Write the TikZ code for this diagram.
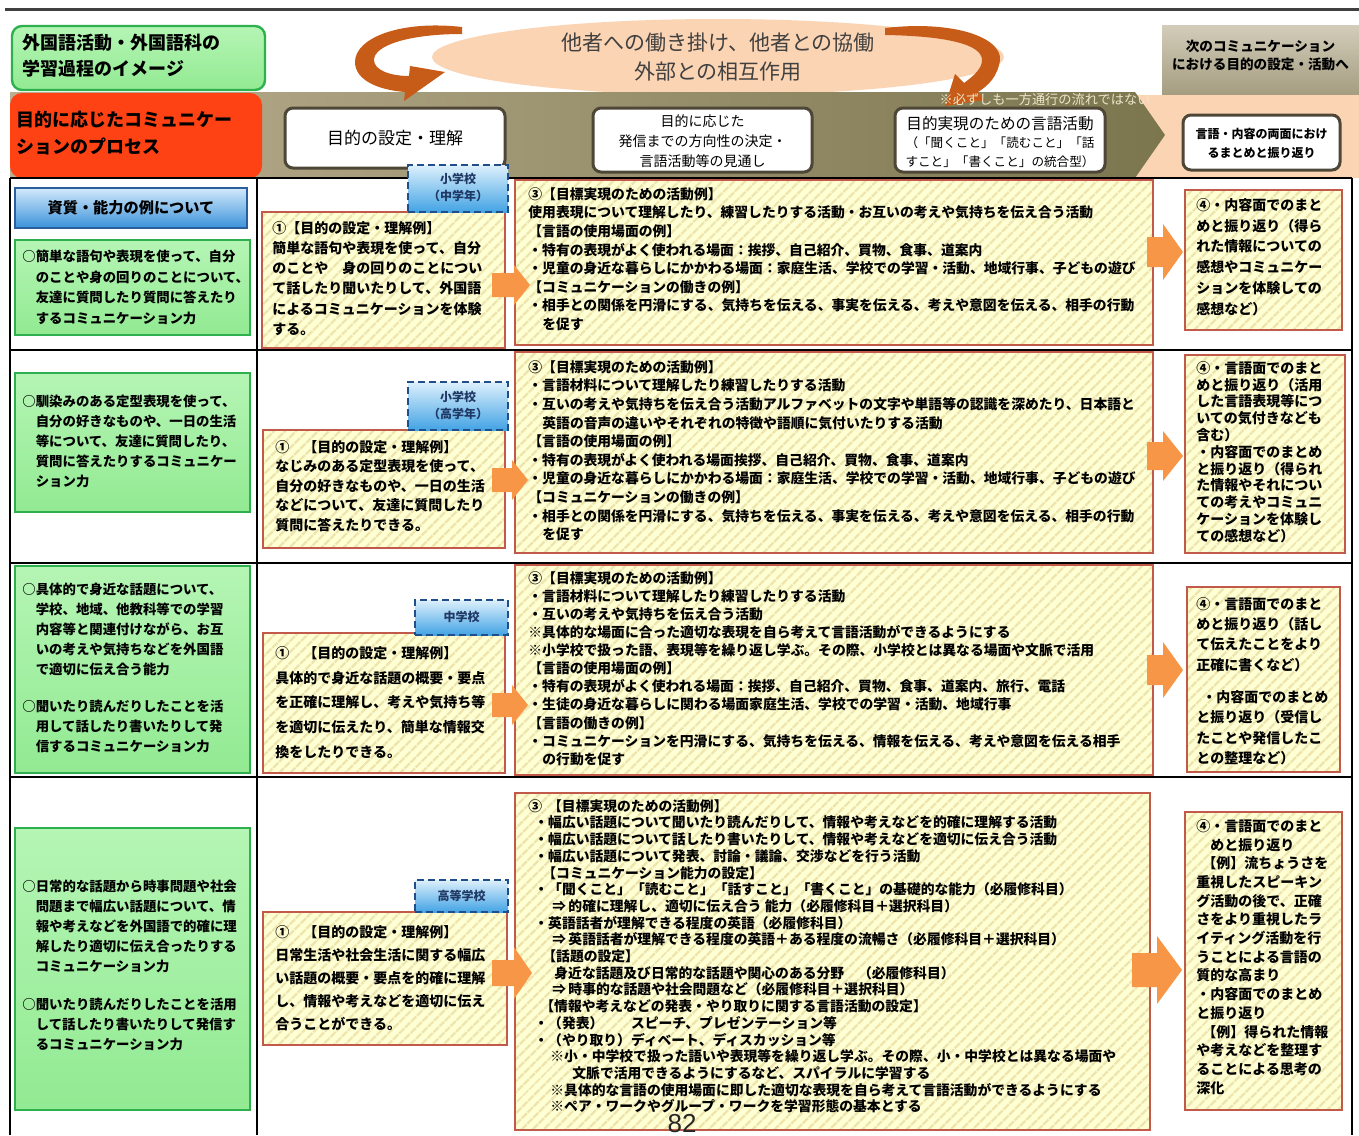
\documentclass[tikz,border=0pt]{standalone}
\usepackage{fontspec}
\setmainfont{Noto Sans CJK JP}
\newfontfamily\numfont{Liberation Sans}
\usetikzlibrary{patterns.meta,fit}
\definecolor{ybg}{HTML}{FFFFD4}
\definecolor{ystripe}{HTML}{EEE5AE}
\definecolor{yborder}{HTML}{C25A4C}
\definecolor{gtop}{HTML}{B5F5B5}
\definecolor{gbot}{HTML}{92EA92}
\definecolor{gborder}{HTML}{2FB04E}
\definecolor{barrowc}{HTML}{F79646}
\definecolor{lblborder}{HTML}{1F4E8A}
\definecolor{lbltop}{HTML}{DDF0FC}
\definecolor{lblbot}{HTML}{43A3E4}
\definecolor{lbltext}{HTML}{1F3864}
\definecolor{peach}{HTML}{FBD4B4}
\definecolor{arcc}{HTML}{C75C18}
\definecolor{bandl}{HTML}{BBAF91}
\definecolor{bandr}{HTML}{7B764E}
\definecolor{redbox}{HTML}{FF4214}
\definecolor{wbborder}{HTML}{4E4737}
\definecolor{nexttop}{HTML}{D3CCBA}
\definecolor{nextbot}{HTML}{A49D80}
\definecolor{notec}{HTML}{EEE6CB}
\definecolor{qtop}{HTML}{D2E9FB}
\definecolor{qbot}{HTML}{3B92DA}
\definecolor{qborder}{HTML}{2A5F9E}
\newcommand\myfs[2]{\fontsize{#1}{#2}\selectfont}
\newcommand\blockarr[6]{\fill[barrowc] (#1,{#4-#5}) -- (#3,{#4-#5}) -- (#3,{#4-#6}) -- (#2,#4) -- (#3,{#4+#6}) -- (#3,{#4+#5}) -- (#1,{#4+#5}) -- cycle;}
\begin{document}
\begin{tikzpicture}[x=0.5pt,y=-0.5pt,
  ybox/.style={draw=yborder,line width=1.4pt,preaction={fill=ybg},
     pattern={Lines[angle=45,distance=4pt,line width=1.3pt]},pattern color=ystripe,inner sep=0pt},
  gbox/.style={draw=gborder,line width=1.2pt,top color=gtop,bottom color=gbot,inner sep=0pt},
  lbl/.style={draw=lblborder,dash pattern=on 3.5pt off 2pt,line width=1.1pt,top color=lbltop,bottom color=lblbot,inner sep=0pt},
  lbltxt/.style={align=center,text=lbltext,font=\bfseries\myfs{6}{8.5},inner sep=0pt},
  wbox/.style={draw=wbborder,line width=1.5pt,fill=white,rounded corners=4pt,inner sep=0pt},
  ctxt/.style={align=center,inner sep=0pt},
  txt/.style={anchor=north west,align=left,inner sep=0pt},
  rule/.style={line width=1pt,black}
]
\useasboundingbox (0,0) rectangle (1359,1135);
\fill[white] (0,0) rectangle (1359,1135);
\draw[line width=1.5pt,black!75] (5,9) -- (1359,9);

% ---------- header ----------
\fill[peach] (718,57) ellipse [x radius=143pt, y radius=19pt];
\node[fit={(1162,25)(1359,95)},top color=nexttop,bottom color=nextbot,inner sep=0pt] (next) {};
\node[ctxt,font=\bfseries\myfs{6.8}{9},yshift=2.5pt] (nextt) at (next.center) {次のコミュニケーション\\における目的の設定・活動へ};
\fill[peach] (1130,95) rectangle (1359,178);
\shade[left color=bandl,right color=bandr] (10,92) -- (1135,92) -- (1165,135) -- (1135,178) -- (10,178) -- cycle;

\fill[arcc] (462,27) .. controls (400,20) and (355,38) .. (355,62) .. controls (355,80) and (378,90) .. (405,92)
  -- (404,101) -- (445,72) -- (410,66) -- (409,76) .. controls (390,76) and (374,70) .. (374,60)
  .. controls (374,45) and (410,34) .. (462,34) -- cycle;
\fill[arcc] (885,28) .. controls (955,20) and (1002,38) .. (1000,60) .. controls (998,76) and (988,86) .. (978,92)
  -- (985,100) -- (945,106) -- (955,74) -- (964,83) .. controls (975,75) and (982,68) .. (982,60)
  .. controls (982,44) and (945,36) .. (885,35) -- cycle;
\node[font=\myfs{10.5}{14.5},text=black!75,ctxt] (coop) at (718,57) {他者への働き掛け、他者との協働\\外部との相互作用};

\node[gbox,rounded corners=5pt,fit={(12,26)(265,90)}] (title) {};
\node[txt,font=\bfseries\myfs{9}{13}] (titlet) at (22,34) {外国語活動・外国語科の\\学習過程のイメージ};
\node[fill=redbox,rounded corners=6pt,inner sep=0pt,fit={(10,93)(262,178)}] (proc) {};
\node[txt,font=\bfseries\myfs{9}{13.5}] (proct) at (16,111) {目的に応じたコミュニケー\\ションのプロセス};

\node[wbox,fit={(285,108)(505,168)}] (b1) {};
\node[ctxt,font=\myfs{8.5}{10}] (b1t) at (b1.center) {目的の設定・理解};
\node[wbox,fit={(593,108)(812,172)}] (b2) {};
\node[ctxt,font=\myfs{7}{10},yshift=-0.5pt] (b2t) at (b2.center) {目的に応じた\\発信までの方向性の決定・\\言語活動等の見通し};
\node[wbox,fit={(895,108)(1105,172)}] (b3) {};
\node[ctxt,font=\myfs{6.3}{9.3},yshift=-1pt] (b3t) at (b3.center) {{\myfs{7.8}{10}目的実現のための言語活動}\\（「聞くこと」「読むこと」「話\\すこと」「書くこと」の統合型）};
\node[wbox,fit={(1183,115)(1340,170)}] (b4) {};
\node[ctxt,font=\bfseries\myfs{6}{9.5},yshift=-0.5pt] (b4t) at (b4.center) {言語・内容の両面におけ\\るまとめと振り返り};
\node[font=\myfs{6.6}{8},text=notec,inner sep=0pt] (note) at (1045,99) {※必ずしも一方通行の流れではない};

% ---------- table rules ----------
\draw[rule] (10,178) -- (1352,178);
\draw[rule] (10,350) -- (1352,350);
\draw[rule] (10,563) -- (1352,563);
\draw[rule] (10,777) -- (1352,777);
\draw[rule] (10,178) -- (10,1135);
\draw[rule] (257,178) -- (257,1135);
\draw[rule] (1352,178) -- (1352,1135);

\node[fit={(15,188)(247,228)},draw=qborder,line width=1pt,top color=qtop,bottom color=qbot,inner sep=0pt] (qual) {};
\node[ctxt,font=\bfseries\myfs{7.6}{9}] (qualt) at (qual.center) {資質・能力の例について};

% ---------- row 1 ----------
\node[gbox,fit={(15,240)(250,335)}] (g1) {};
\node[txt,font=\bfseries\myfs{6.7}{10.25}] (g1t) at (22,250) {○簡単な語句や表現を使って、自分\\　のことや身の回りのことについて、\\　友達に質問したり質問に答えたり\\　するコミュニケーション力};
\node[ybox,fit={(262,212)(505,348)}] (r1a) {};
\node[txt,font=\bfseries\myfs{7}{10.1}] (r1at) at (272,221) {①【目的の設定・理解例】\\簡単な語句や表現を使って、自分\\のことや　身の回りのことについ\\て話したり聞いたりして、外国語\\によるコミュニケーションを体験\\する。};
\node[lbl,fit={(408,165)(508,212)}] (l1) {};
\node[lbltxt,yshift=0.5pt] (l1t) at (l1.center) {小学校\\（中学年）};
\node[ybox,fit={(515,180)(1153,345)}] (r1c) {};
\node[txt,font=\bfseries\myfs{6.9}{9.3}] (r1ct) at (528,187) {③【目標実現のための活動例】\\使用表現について理解したり、練習したりする活動・お互いの考えや気持ちを伝え合う活動\\【言語の使用場面の例】\\・特有の表現がよく使われる場面：挨拶、自己紹介、買物、食事、道案内\\・児童の身近な暮らしにかかわる場面：家庭生活、学校での学習・活動、地域行事、子どもの遊び\\【コミュニケーションの働きの例】\\・相手との関係を円滑にする、気持ちを伝える、事実を伝える、考えや意図を伝える、相手の行動\\\hspace*{7pt}を促す};
\node[ybox,fit={(1185,190)(1342,330)}] (r1d) {};
\node[txt,font=\bfseries\myfs{7}{10.4}] (r1dt) at (1196,198) {④・内容面でのまと\\めと振り返り（得ら\\れた情報についての\\感想やコミュニケー\\ションを体験しての\\感想など）};
\blockarr{492}{530}{514}{285}{12}{20}
\blockarr{1147}{1183}{1163}{252}{15}{28}

% ---------- row 2 ----------
\node[gbox,fit={(15,373)(250,512)}] (g2) {};
\node[txt,font=\bfseries\myfs{6.7}{9.9}] (g2t) at (22,395) {○馴染みのある定型表現を使って、\\　自分の好きなものや、一日の生活\\　等について、友達に質問したり、\\　質問に答えたりするコミュニケー\\　ション力};
\node[ybox,fit={(263,430)(505,548)}] (r2a) {};
\node[txt,font=\bfseries\myfs{7}{9.75}] (r2at) at (275,440) {①　【目的の設定・理解例】\\なじみのある定型表現を使って、\\自分の好きなものや、一日の生活\\などについて、友達に質問したり\\質問に答えたりできる。};
\node[lbl,fit={(408,382)(508,430)}] (l2) {};
\node[lbltxt,yshift=0.5pt] (l2t) at (l2.center) {小学校\\（高学年）};
\node[ybox,fit={(515,352)(1153,553)}] (r2c) {};
\node[txt,font=\bfseries\myfs{6.9}{9.3}] (r2ct) at (528,360) {③【目標実現のための活動例】\\・言語材料について理解したり練習したりする活動\\・互いの考えや気持ちを伝え合う活動アルファベットの文字や単語等の認識を深めたり、日本語と\\\hspace*{7pt}英語の音声の違いやそれぞれの特徴や語順に気付いたりする活動\\【言語の使用場面の例】\\・特有の表現がよく使われる場面挨拶、自己紹介、買物、食事、道案内\\・児童の身近な暮らしにかかわる場面：家庭生活、学校での学習・活動、地域行事、子どもの遊び\\【コミュニケーションの働きの例】\\・相手との関係を円滑にする、気持ちを伝える、事実を伝える、考えや意図を伝える、相手の行動\\\hspace*{7pt}を促す};
\node[ybox,fit={(1185,355)(1345,553)}] (r2d) {};
\node[txt,font=\bfseries\myfs{7}{8.4}] (r2dt) at (1196,361) {④・言語面でのまと\\めと振り返り（活用\\した言語表現等につ\\いての気付きなども\\含む）\\・内容面でのまとめ\\と振り返り（得られ\\た情報やそれについ\\ての考えやコミュニ\\ケーションを体験し\\ての感想など）};
\blockarr{492}{528}{512}{480}{12}{20}
\blockarr{1147}{1183}{1163}{456}{14}{25}

% ---------- row 3 ----------
\node[gbox,fit={(15,566)(250,773)}] (g3) {};
\node[txt,font=\bfseries\myfs{6.7}{10}] (g3t) at (22,583) {○具体的で身近な話題について、\\　学校、地域、他教科等での学習\\　内容等と関連付けながら、お互\\　いの考えや気持ちなどを外国語\\　で適切に伝え合う能力\\[8.5pt]○聞いたり読んだりしたことを活\\　用して話したり書いたりして発\\　信するコミュニケーション力};
\node[ybox,fit={(263,633)(505,773)}] (r3a) {};
\node[txt,font=\bfseries\myfs{7}{12.4}] (r3at) at (275,646) {①　【目的の設定・理解例】\\具体的で身近な話題の概要・要点\\を正確に理解し、考えや気持ち等\\を適切に伝えたり、簡単な情報交\\換をしたりできる。};
\node[lbl,fit={(415,600)(508,635)}] (l3) {};
\node[lbltxt,yshift=0.5pt] (l3t) at (l3.center) {中学校};
\node[ybox,fit={(515,565)(1153,775)}] (r3c) {};
\node[txt,font=\bfseries\myfs{6.9}{9.05}] (r3ct) at (528,571) {③【目標実現のための活動例】\\・言語材料について理解したり練習したりする活動\\・互いの考えや気持ちを伝え合う活動\\※具体的な場面に合った適切な表現を自ら考えて言語活動ができるようにする\\※小学校で扱った語、表現等を繰り返し学ぶ。その際、小学校とは異なる場面や文脈で活用\\【言語の使用場面の例】\\・特有の表現がよく使われる場面：挨拶、自己紹介、買物、食事、道案内、旅行、電話\\・生徒の身近な暮らしに関わる場面家庭生活、学校での学習・活動、地域行事\\【言語の働きの例】\\・コミュニケーションを円滑にする、気持ちを伝える、情報を伝える、考えや意図を伝える相手\\\hspace*{7pt}の行動を促す};
\node[ybox,fit={(1187,587)(1340,772)}] (r3d) {};
\node[txt,font=\bfseries\myfs{7}{10.15}] (r3dt) at (1196,597) {④・言語面でのまと\\めと振り返り（話し\\て伝えたことをより\\正確に書くなど）\\[6pt]\hspace*{3pt}・内容面でのまとめ\\と振り返り（受信し\\たことや発信したこ\\との整理など）};
\blockarr{492}{528}{512}{705}{12}{20}
\blockarr{1147}{1183}{1163}{670}{15}{28}

% ---------- row 4 ----------
\node[gbox,fit={(15,828)(250,1110)}] (g4) {};
\node[txt,font=\bfseries\myfs{6.7}{10}] (g4t) at (22,880) {○日常的な話題から時事問題や社会\\　問題まで幅広い話題について、情\\　報や考えなどを外国語で的確に理\\　解したり適切に伝え合ったりする\\　コミュニケーション力\\[9pt]○聞いたり読んだりしたことを活用\\　して話したり書いたりして発信す\\　るコミュニケーション力};
\node[ybox,fit={(263,912)(507,1045)}] (r4a) {};
\node[txt,font=\bfseries\myfs{7}{11.5}] (r4at) at (275,925) {①　【目的の設定・理解例】\\日常生活や社会生活に関する幅広\\い話題の概要・要点を的確に理解\\し、情報や考えなどを適切に伝え\\合うことができる。};
\node[lbl,fit={(415,880)(508,912)}] (l4) {};
\node[lbltxt] (l4t) at (l4.center) {高等学校};
\node[ybox,fit={(515,793)(1150,1130)}] (r4c) {};
\node[txt,font=\bfseries\myfs{6.9}{8.35}] (r4ct) at (528,799) {③\hspace{3pt}【目標実現のための活動例】\\\hspace*{3pt}・幅広い話題について聞いたり読んだりして、情報や考えなどを的確に理解する活動\\\hspace*{3pt}・幅広い話題について話したり書いたりして、情報や考えなどを適切に伝え合う活動\\\hspace*{3pt}・幅広い話題について発表、討論・議論、交渉などを行う活動\\\hspace*{7pt}【コミュニケーション能力の設定】\\\hspace*{3pt}・「聞くこと」「読むこと」「話すこと」「書くこと」の基礎的な能力（必履修科目）\\\hspace*{12pt}⇒\,的確に理解し、適切に伝え合う 能力（必履修科目＋選択科目）\\\hspace*{3pt}・英語話者が理解できる程度の英語（必履修科目）\\\hspace*{12pt}⇒\,英語話者が理解できる程度の英語＋ある程度の流暢さ（必履修科目＋選択科目）\\\hspace*{7pt}【話題の設定】\\\hspace*{13pt}身近な話題及び日常的な話題や関心のある分野　（必履修科目）\\\hspace*{12pt}⇒\,時事的な話題や社会問題など（必履修科目＋選択科目）\\\hspace*{6pt}【情報や考えなどの発表・やり取りに関する言語活動の設定】\\\hspace*{3pt}・（発表）　　スピーチ、プレゼンテーション等\\\hspace*{3pt}・（やり取り）ディベート、ディスカッション等\\\hspace*{11pt}※小・中学校で扱った語いや表現等を繰り返し学ぶ。その際、小・中学校とは異なる場面や\\\hspace*{22pt}文脈で活用できるようにするなど、スパイラルに学習する\\\hspace*{11pt}※具体的な言語の使用場面に即した適切な表現を自ら考えて言語活動ができるようにする\\\hspace*{11pt}※ペア・ワークやグループ・ワークを学習形態の基本とする};
\node[ybox,fit={(1185,812)(1342,1110)}] (r4d) {};
\node[txt,font=\bfseries\myfs{7}{9.35}] (r4dt) at (1196,819) {④・言語面でのまと\\\hspace*{7pt}めと振り返り\\\hspace*{3pt}【例】流ちょうさを\\重視したスピーキン\\グ活動の後で、正確\\さをより重視したラ\\イティング活動を行\\うことによる言語の\\質的な高まり\\・内容面でのまとめ\\と振り返り\\\hspace*{3pt}【例】得られた情報\\や考えなどを整理す\\ることによる思考の\\深化};
\blockarr{492}{532}{514}{973}{13}{26}
\blockarr{1132}{1182}{1157}{970}{17}{34}

\node[font=\numfont\fontsize{13}{13}\selectfont,text=black!85,inner sep=0pt] (pg) at (682,1124) {82};
\end{tikzpicture}
\end{document}
